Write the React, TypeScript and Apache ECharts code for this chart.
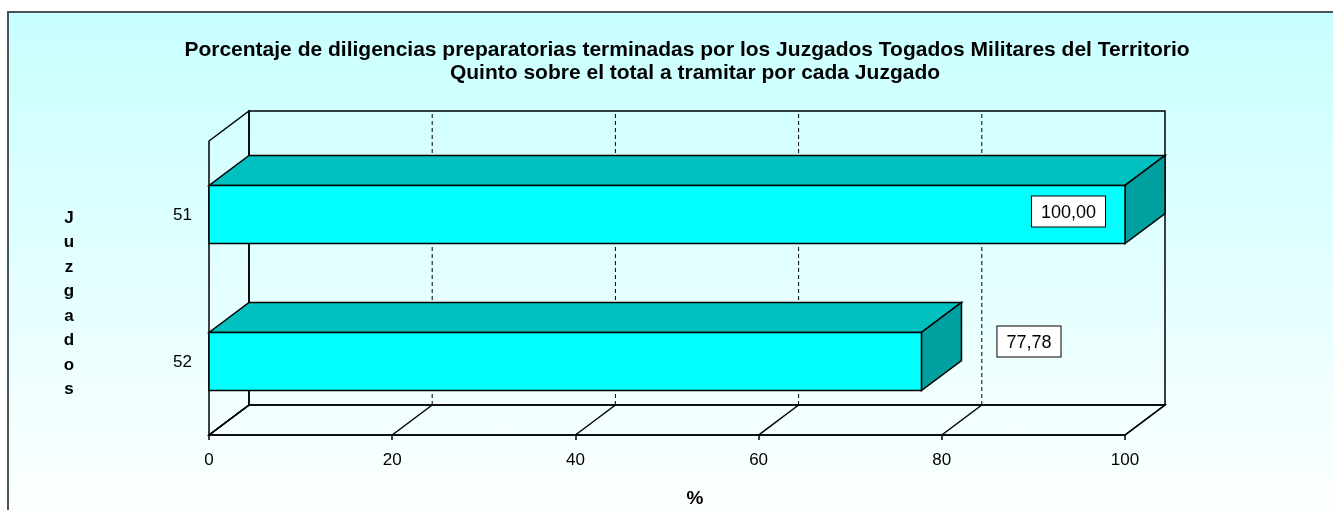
import React, { useEffect, useRef } from "react";
import * as echarts from "echarts";

const titleLines = [
  "Porcentaje de diligencias preparatorias terminadas por los Juzgados Togados Militares del Territorio",
  "Quinto sobre el total a tramitar por cada Juzgado",
];
const categories = ["52", "51"];
const values = [77.78, 100];
const valueLabels = ["77,78", "100,00"];
const xTicks = [0, 20, 40, 60, 80, 100];
const xAxisName = "%";
const yAxisName = "Juzgados";

const FONT = 'Arial, "Liberation Sans", sans-serif';
const DX = 40;
const DY = -30;

export default function App() {
  const ref = useRef<HTMLDivElement>(null);

  useEffect(() => {
    const chart = echarts.init(ref.current!, null, { renderer: "svg" });
    const frameData = xTicks.map((v) => [v, 0]);
    const barData = values.map((v, i) => [v, i]);
    const lineStyle = { stroke: "#000", lineWidth: 1.5, fill: "none" };

    chart.setOption({
      animation: false,
      graphic: [
        {
          type: "rect",
          z: -10,
          silent: true,
          shape: { x: 8, y: 12, width: 1345, height: 520 },
          style: {
            fill: new echarts.graphic.LinearGradient(0, 0, 0, 1, [
              { offset: 0, color: "#c8ffff" },
              { offset: 1, color: "#ffffff" },
            ]),
            stroke: "#4a5454",
            lineWidth: 2,
          },
        },
        {
          type: "text",
          z: 10,
          x: 687,
          y: 48,
          style: {
            text: titleLines[0],
            font: `bold 21px ${FONT}`,
            fill: "#000",
            align: "center",
            verticalAlign: "middle",
          },
        },
        {
          type: "text",
          z: 10,
          x: 695,
          y: 71,
          style: {
            text: titleLines[1],
            font: `bold 21px ${FONT}`,
            fill: "#000",
            align: "center",
            verticalAlign: "middle",
          },
        },
        {
          type: "text",
          z: 10,
          x: 69,
          y: 303,
          style: {
            text: yAxisName.split("").join("\n"),
            font: `bold 17px ${FONT}`,
            lineHeight: 24.5,
            fill: "#000",
            align: "center",
            verticalAlign: "middle",
          },
        },
        {
          type: "text",
          z: 10,
          x: 695,
          y: 497,
          style: {
            text: xAxisName,
            font: `bold 19px ${FONT}`,
            fill: "#000",
            align: "center",
            verticalAlign: "middle",
          },
        },
      ],
      grid: { left: 209, top: 141, width: 916, height: 294, outerBoundsMode: "none", containLabel: false },
      xAxis: {
        type: "value",
        min: 0,
        max: 100,
        interval: 20,
        axisLine: { show: true, lineStyle: { color: "#000", width: 1.5 } },
        axisTick: { show: true, length: 5, lineStyle: { color: "#000", width: 1.5 } },
        axisLabel: { color: "#000", fontSize: 17, fontFamily: FONT, margin: 16 },
        splitLine: { show: false },
      },
      yAxis: {
        type: "category",
        data: categories,
        axisLine: { show: false },
        axisTick: { show: false },
        axisLabel: { color: "#000", fontSize: 17, fontFamily: FONT, margin: 17 },
        splitLine: { show: false },
      },
      series: [
        {
          type: "custom",
          silent: true,
          clip: false,
          z: 1,
          data: frameData,
          renderItem: (params: any, api: any) => {
            const cs = params.coordSys;
            const x0 = cs.x;
            const x1 = cs.x + cs.width;
            const yT = cs.y;
            const yB = cs.y + cs.height;
            const v = api.value(0);
            const px = api.coord([v, 0])[0];
            const children: any[] = [];
            if (params.dataIndex === 0) {
              children.push({
                type: "polygon",
                shape: { points: [[x0, yB], [x0, yT], [x0 + DX, yT + DY], [x0 + DX, yB + DY]] },
                style: lineStyle,
              });
              children.push({
                type: "rect",
                shape: { x: x0 + DX, y: yT + DY, width: x1 - x0, height: yB - yT },
                style: lineStyle,
              });
              children.push({
                type: "polygon",
                shape: { points: [[x0, yB], [x1, yB], [x1 + DX, yB + DY], [x0 + DX, yB + DY]] },
                style: lineStyle,
              });
            }
            children.push({
              type: "line",
              shape: { x1: px, y1: yB, x2: px + DX, y2: yB + DY },
              style: lineStyle,
            });
            if (px > x0 + 1 && px < x1 - 1) {
              children.push({
                type: "line",
                shape: { x1: px + DX, y1: yB + DY, x2: px + DX, y2: yT + DY },
                style: { stroke: "#000", lineWidth: 1, lineDash: [4, 3] },
              });
            }
            return { type: "group", children };
          },
        },
        {
          type: "custom",
          silent: true,
          clip: false,
          z: 3,
          data: barData,
          renderItem: (params: any, api: any) => {
            const v = api.value(0);
            const ci = api.value(1);
            const p = api.coord([v, ci]);
            const xv = p[0];
            const cy = p[1];
            const x0 = api.coord([0, ci])[0];
            const h = api.size([0, 1])[1] * 0.395;
            const top = cy - h / 2;
            const bot = cy + h / 2;
            const edge = { stroke: "#000", lineWidth: 1.5 };
            const inside = v >= 95;
            return {
              type: "group",
              children: [
                {
                  type: "polygon",
                  shape: { points: [[x0, top], [xv, top], [xv + DX, top + DY], [x0 + DX, top + DY]] },
                  style: { ...edge, fill: "#00c0c0" },
                },
                {
                  type: "polygon",
                  shape: { points: [[xv, top], [xv + DX, top + DY], [xv + DX, bot + DY], [xv, bot]] },
                  style: { ...edge, fill: "#00a0a0" },
                },
                {
                  type: "rect",
                  shape: { x: x0, y: top, width: xv - x0, height: bot - top },
                  style: { ...edge, fill: "#00ffff" },
                },
                {
                  type: "text",
                  x: inside ? xv - 20 : xv + 76,
                  y: inside ? cy - 3 : cy - 20,
                  style: {
                    text: valueLabels[params.dataIndex],
                    font: `18px ${FONT}`,
                    fill: "#000",
                    align: inside ? "right" : "left",
                    verticalAlign: "middle",
                    backgroundColor: "#fff",
                    borderColor: "#000",
                    borderWidth: 1,
                    padding: [6, 9, 6, 9],
                  },
                },
              ],
            };
          },
        },
      ],
    });

    return () => chart.dispose();
  }, []);

  return (
    <div
      ref={ref}
      style={{ position: "fixed", left: 0, top: 0, width: 1333, height: 510 }}
    />
  );
}
